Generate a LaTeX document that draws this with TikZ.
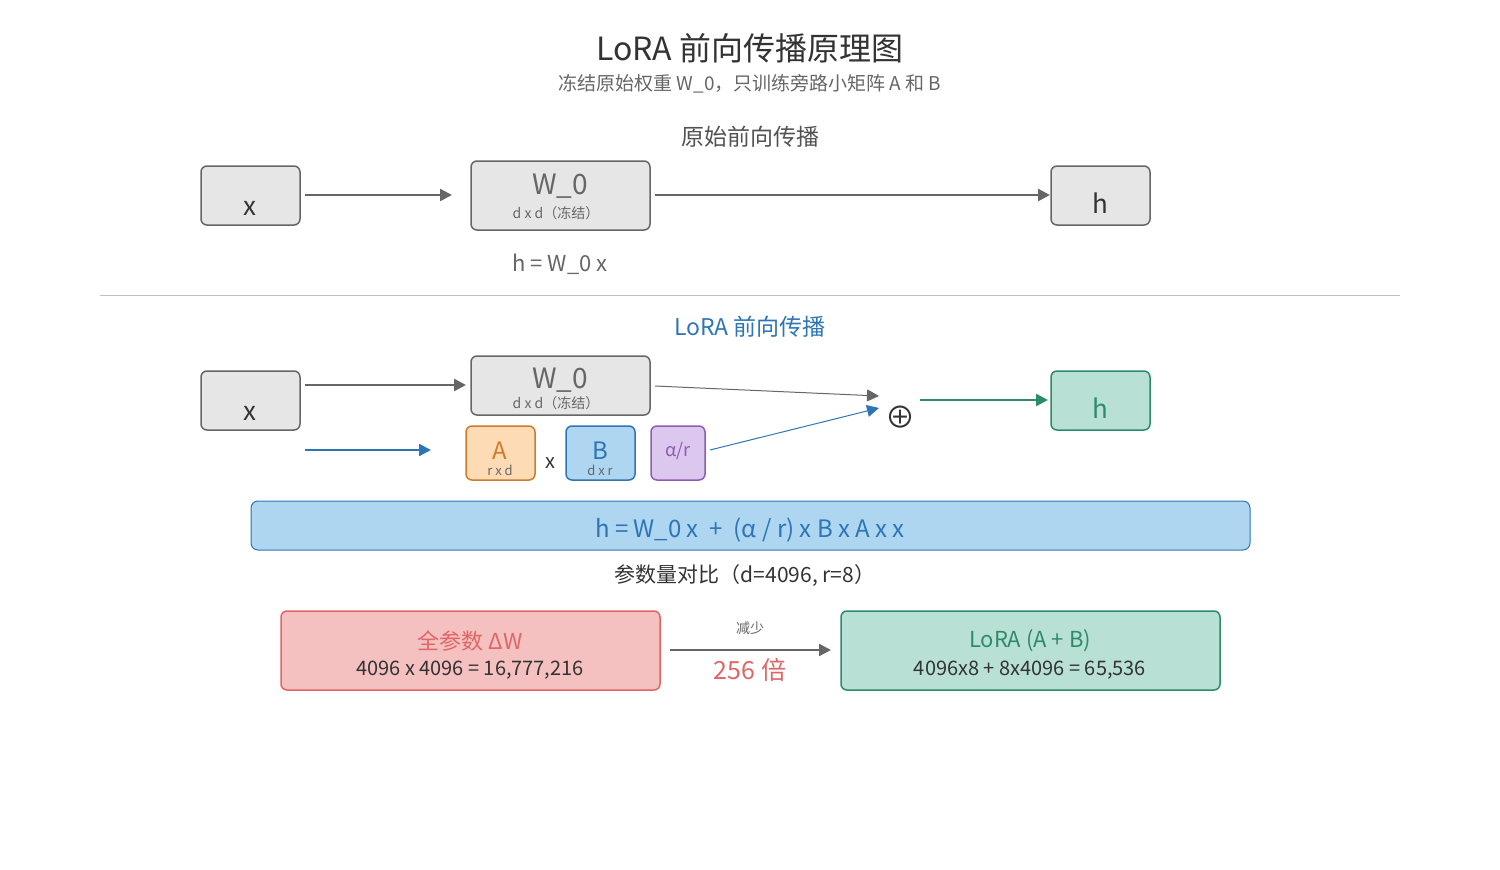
\documentclass[tikz,border=0pt]{standalone}
\usepackage{fontspec}
\setmainfont{Noto Sans CJK SC}
\usetikzlibrary{arrows.meta}
\definecolor{dk}{HTML}{333333}
\definecolor{gy}{HTML}{666666}
\definecolor{gfill}{HTML}{E6E6E6}
\definecolor{bl}{HTML}{2E75B6}
\definecolor{blf}{HTML}{AED6F1}
\definecolor{gr}{HTML}{2E8B6A}
\definecolor{grf}{HTML}{B8E0D4}
\definecolor{rd}{HTML}{E06666}
\definecolor{rdf}{HTML}{F4C0C0}
\definecolor{or}{HTML}{D07A2E}
\definecolor{orf}{HTML}{FDDCB5}
\definecolor{pu}{HTML}{8E5BB5}
\definecolor{puf}{HTML}{DCC8EE}
\tikzset{
 box/.style={draw=gy,fill=gfill,line width=1.5pt,rounded corners=6pt},
 arr/.style={-{Triangle[length=12pt,width=12pt]},line width=2.5pt},
 tarr/.style={-{Triangle[length=12pt,width=12pt]},line width=1pt},
 txt/.style={inner sep=0pt,anchor=center}
}
\begin{document}
\begin{tikzpicture}[x=1pt,y=-1pt]
\useasboundingbox (0,0) rectangle (1500,870);
\node[txt,dk,font=\fontsize{32}{36}\selectfont] (t) at (750,48) {LoRA 前向传播原理图};
\node[txt,gy,font=\fontsize{19}{22}\selectfont] (st) at (750,84) {冻结原始权重 W\_0，只训练旁路小矩阵 A 和 B};
\node[txt,gy!80!black,font=\fontsize{23}{26}\selectfont] (s1) at (750,137) {原始前向传播};
% row 1
\draw[box] (201,166) rectangle (300,225);
\node[txt,dk,font=\fontsize{26}{28}\selectfont] (x1) at (250,208) {x};
\draw[box] (471,161) rectangle (650,230);
\node[txt,gy,font=\fontsize{28}{30}\selectfont] (w1) at (560,186) {W\_0};
\node[txt,gy,font=\fontsize{14}{16}\selectfont] (w1s) at (556,213) {d x d（冻结）};
\draw[box] (1051,166) rectangle (1150,225);
\node[txt,dk,font=\fontsize{26}{28}\selectfont] (h1) at (1100,203) {h};
\coordinate (a1) at (305,195); \coordinate (a2) at (452,195);
\coordinate (a3) at (655,195); \coordinate (a4) at (1050,195);
\draw[arr,gy] (a1) -- (a2);
\draw[arr,gy] (a3) -- (a4);
\node[txt,gy,font=\fontsize{22}{24}\selectfont] (e1) at (560,264) {h = W\_0 x};
\coordinate (l1) at (100,295); \coordinate (l2) at (1400,295);
\draw[gray!50,line width=1pt] (l1) -- (l2);
\node[txt,bl,font=\fontsize{23}{26}\selectfont] (s2) at (750,327) {LoRA 前向传播};
% row 2
\draw[box] (201,371) rectangle (300,430);
\node[txt,dk,font=\fontsize{26}{28}\selectfont] (x2) at (250,413) {x};
\draw[box] (471,356) rectangle (650,415);
\node[txt,gy,font=\fontsize{28}{30}\selectfont] (w2) at (560,380) {W\_0};
\node[txt,gy,font=\fontsize{14}{16}\selectfont] (w2s) at (556,403) {d x d（冻结）};
\draw[box,draw=gr,fill=grf] (1051,371) rectangle (1150,430);
\node[txt,gr,font=\fontsize{26}{28}\selectfont] (h2) at (1100,408) {h};
\coordinate (b1) at (305,385); \coordinate (b2) at (466,385);
\draw[arr,gy] (b1) -- (b2);
\coordinate (c1) at (305,450); \coordinate (c2) at (431,450);
\draw[arr,bl] (c1) -- (c2);
\draw[box,draw=or,fill=orf] (466,426) rectangle (535,480);
\node[txt,or,font=\fontsize{24}{26}\selectfont] (A) at (500,451) {A};
\node[txt,gy,font=\fontsize{13}{15}\selectfont] (As) at (500,470) {r x d};
\node[txt,dk,font=\fontsize{20}{22}\selectfont] (mx) at (550,463) {x};
\draw[box,draw=bl,fill=blf] (566,426) rectangle (635,480);
\node[txt,bl,font=\fontsize{24}{26}\selectfont] (B) at (600,451) {B};
\node[txt,gy,font=\fontsize{13}{15}\selectfont] (Bs) at (600,470) {d x r};
\draw[box,draw=pu,fill=puf] (651,426) rectangle (705,480);
\node[txt,pu,font=\fontsize{18}{20}\selectfont] (al) at (678,451) {α/r};
\node[txt,dk,font=\fontsize{30}{32}\selectfont] (plus) at (900,417) {⊕};
\coordinate (d1) at (655,386); \coordinate (d2) at (879,396);
\draw[tarr,gy] (d1) -- (d2);
\coordinate (f1) at (710,450); \coordinate (f2) at (879,408);
\draw[tarr,bl] (f1) -- (f2);
\coordinate (g1) at (920,400); \coordinate (g2) at (1048,400);
\draw[arr,gr] (g1) -- (g2);
% formula
\draw[draw=bl,fill=blf,line width=1pt,rounded corners=7pt] (251,501) rectangle (1250,550);
\node[txt,bl,font=\fontsize{24}{26}\selectfont] (fm) at (750,530) {h = W\_0 x \ + \ (α / r) x B x A x x};
\node[txt,dk,font=\fontsize{21}{24}\selectfont] (pc) at (745,576) {参数量对比（d=4096, r=8）};
% comparison
\draw[box,draw=rd,fill=rdf] (281,611) rectangle (660,690);
\node[txt,rd,font=\fontsize{22}{24}\selectfont] (r1) at (470,641) {全参数 ΔW};
\node[txt,dk,font=\fontsize{20}{22}\selectfont] (r2) at (470,670) {4096 x 4096 = 16,777,216};
\draw[box,draw=gr,fill=grf] (841,611) rectangle (1220,690);
\node[txt,gr,font=\fontsize{22}{24}\selectfont] (q1) at (1030,641) {LoRA (A + B)};
\node[txt,dk,font=\fontsize{20}{22}\selectfont] (q2) at (1030,670) {4096x8 + 8x4096 = 65,536};
\coordinate (k1) at (670,650); \coordinate (k2) at (831,650);
\draw[arr,gy] (k1) -- (k2);
\node[txt,gy,font=\fontsize{14}{16}\selectfont] (rd1) at (750,628) {减少};
\node[txt,rd,font=\fontsize{25}{28}\selectfont] (rd2) at (750,670) {256 倍};
\end{tikzpicture}
\end{document}
